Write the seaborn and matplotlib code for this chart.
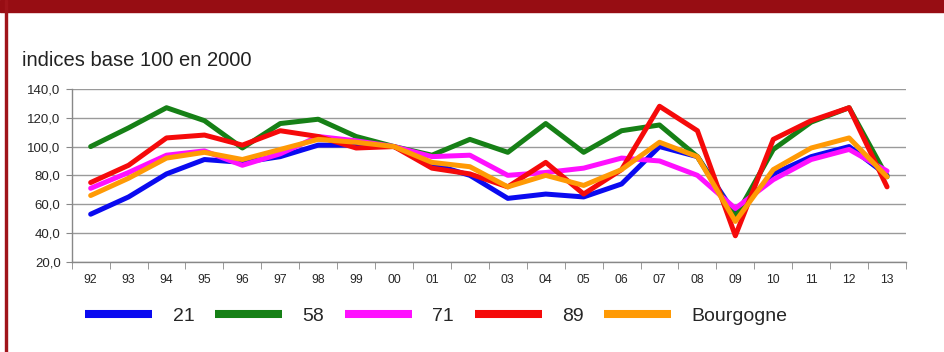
import numpy as np
import pandas as pd
import matplotlib
matplotlib.use("Agg")
import matplotlib.pyplot as plt
import seaborn as sns
from matplotlib.patches import Rectangle
from matplotlib.lines import Line2D

annees = ["92", "93", "94", "95", "96", "97", "98", "99", "00", "01", "02",
          "03", "04", "05", "06", "07", "08", "09", "10", "11", "12", "13"]
s21 = [53, 65, 81, 91, 89, 93, 101, 101, 100, 88, 80, 64, 67, 65, 74, 100, 93, 53, 81, 93, 100, 80]
s58 = [100, 113, 127, 118, 99, 116, 119, 107, 100, 94, 105, 96, 116, 96, 111, 115, 93, 51, 98, 117, 127, 79]
s71 = [71, 82, 94, 97, 87, 95, 107, 104, 100, 93, 94, 80, 82, 85, 92, 90, 80, 57, 77, 91, 98, 83]
s89 = [75, 87, 106, 108, 101, 111, 107, 99, 100, 85, 81, 72, 89, 67, 84, 128, 111, 38, 105, 118, 127, 72]
bourgogne = [66, 78, 92, 96, 91, 98, 105, 103, 100, 89, 86, 72, 80, 73, 84, 103, 93, 48, 84, 99, 106, 79]

series_names = ["21", "58", "71", "89", "Bourgogne"]
series_vals = [s21, s58, s71, s89, bourgogne]
colors = ["#0a0af0", "#168016", "#ff10ff", "#f50a0a", "#ff9a05"]

rows = []
for name, vals in zip(series_names, series_vals):
    for i, v in enumerate(vals):
        rows.append({"pos": i, "annee": annees[i], "serie": name, "valeur": v})
df = pd.DataFrame(rows)

sns.set_style("white")
plt.rcParams["font.family"] = ["Liberation Sans", "DejaVu Sans"]

fig = plt.figure(figsize=(9.44, 3.52), dpi=100)
fig.patch.set_facecolor("white")

# frame decorations
fig.add_artist(Rectangle((0, 1 - 12 / 352), 1, 12 / 352, transform=fig.transFigure,
                         color="#970d13", zorder=0))
fig.add_artist(Rectangle((5 / 944, 0), 2 / 944, 1, transform=fig.transFigure,
                         color="#a0141a", zorder=0))

ax = fig.add_axes([71.7 / 944, 1 - 261.7 / 352, (906 - 71.7) / 944, (261.7 - 89) / 352])

sns.lineplot(data=df, x="pos", y="valeur", hue="serie", palette=dict(zip(series_names, colors)),
             hue_order=series_names, linewidth=3.6, sort=False, legend=False, ax=ax)

ax.set_xlim(-0.5, len(annees) - 0.5)
ax.set_ylim(20, 140)
ax.set_yticks(np.arange(20, 141, 20))
ax.set_yticklabels([f"{v:.1f}".replace(".", ",") for v in np.arange(20, 141, 20)], fontsize=9.5)
ax.yaxis.grid(True, color="#9a9a9a", linewidth=1.0)
ax.set_axisbelow(True)
ax.set_xticks(np.arange(len(annees)))
ax.set_xticklabels(annees, fontsize=8.8)
ax.set_xticks(np.arange(-0.5, len(annees), 1), minor=True)
ax.tick_params(axis="x", which="major", length=0, pad=9)
ax.tick_params(axis="x", which="minor", length=5, direction="out", color="#888888", bottom=True)
ax.tick_params(axis="y", which="major", length=4, direction="out", color="#888888", left=True, pad=4)
ax.set_xlabel("")
ax.set_ylabel("")
for side in ["top", "right"]:
    ax.spines[side].set_visible(False)
for side in ["left", "bottom"]:
    ax.spines[side].set_color("#888888")
    ax.spines[side].set_linewidth(1.0)

fig.text(22 / 944, 1 - 61 / 352, "indices base 100 en 2000", fontsize=14.5, va="center", ha="left",
         color="#222222")

handles = [Line2D([0], [0], color=c, linewidth=5.8, solid_capstyle="butt") for c in colors]
fig.legend(handles, series_names, loc="center left", bbox_to_anchor=(85 / 944, 1 - 316 / 352),
           ncol=5, frameon=False, fontsize=14, handlelength=3.45, handletextpad=1.05,
           columnspacing=1.06, borderpad=0, borderaxespad=0)

fig.savefig("out.png", dpi=100, facecolor="white")
